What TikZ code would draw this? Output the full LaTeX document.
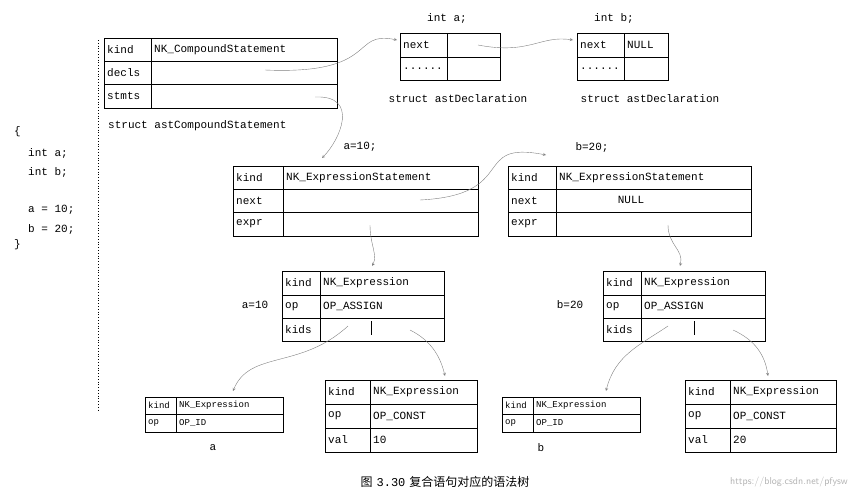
\documentclass[tikz,border=0pt]{standalone}
\usepackage{fontspec}
\setmonofont{Liberation Mono}
\newfontfamily\cjk{Noto Sans CJK SC}
\usetikzlibrary{calc}
\tikzset{
  cellkey/.style={anchor=west,inner sep=0pt,font=\ttfamily\fontsize{11}{12}\selectfont},
  lbl/.style={inner sep=0pt,font=\ttfamily\fontsize{11}{12}\selectfont},
  link/.style={->,gray,thin,>=stealth},
}
% one row of a struct: name, x1, xsplit, x2, ytop, ybot, key, value
\newcommand\cellrow[8]{
  \draw[line width=1pt] (#2,#5) rectangle (#3,#6) (#3,#5) rectangle (#4,#6);
  \node[cellkey] (#1-k) at ({#2+3},{(#5+#6)/2}) {#7};
  \node[cellkey] (#1-v) at ({#3+3},{(#5+#6)/2}) {#8};
}
\begin{document}
\begin{tikzpicture}[x=1pt,y=-1pt]
  \useasboundingbox (0,0) rectangle (856,493);

  % source code
  \node[lbl,anchor=west] (lb) at (14,132) {\{};
  \node[lbl,anchor=west] (ca) at (28,153) {int a;};
  \node[lbl,anchor=west] (cb) at (28,172) {int b;};
  \node[lbl,anchor=west] (cc) at (28,210) {a = 10;};
  \node[lbl,anchor=west] (cd) at (28,229) {b = 20;};
  \node[lbl,anchor=west] (rb) at (14,245) {\}};
  \draw[dotted,thick] (98,40) -- (98,410);

  % compound statement
  \cellrow{cs1}{104}{151}{337}{38}{61}{kind}{NK\_CompoundStatement}
  \cellrow{cs2}{104}{151}{337}{61}{84}{decls}{}
  \cellrow{cs3}{104}{151}{337}{84}{108}{stmts}{}
  \node[lbl,anchor=west] (csname) at (108,126) {struct astCompoundStatement};

  % declarations
  \cellrow{da1}{400}{447}{500}{33}{57}{next}{}
  \cellrow{da2}{400}{447}{500}{57}{80}{......}{}
  \node[lbl] (daname) at (458,99) {struct astDeclaration};
  \node[lbl] (datitle) at (447,18) {int a;};
  \cellrow{db1}{577}{624}{668}{33}{57}{next}{NULL}
  \cellrow{db2}{577}{624}{668}{57}{80}{......}{}
  \node[lbl] (dbname) at (650,99) {struct astDeclaration};
  \node[lbl] (dbtitle) at (614,18) {int b;};

  % expression statements
  \cellrow{ea1}{233}{283}{478}{166}{189}{kind}{NK\_ExpressionStatement}
  \cellrow{ea2}{233}{283}{478}{189}{212}{next}{}
  \cellrow{ea3}{233}{283}{478}{212}{236}{expr}{}
  \node[lbl] (eatitle) at (360,147) {a=10;};
  \cellrow{eb1}{508}{556}{751}{166}{189}{kind}{NK\_ExpressionStatement}
  \cellrow{eb2}{508}{556}{751}{189}{212}{next}{}
  \cellrow{eb3}{508}{556}{751}{212}{236}{expr}{}
  \node[lbl] (ebnull) at (631,200) {NULL};
  \node[lbl] (ebtitle) at (592,147) {b=20;};

  % assign expressions
  \cellrow{xa1}{282}{320}{444}{271}{295}{kind}{NK\_Expression}
  \cellrow{xa2}{282}{320}{444}{295}{318}{op}{OP\_ASSIGN}
  \cellrow{xa3}{282}{320}{444}{318}{341}{kids}{}
  \draw[line width=1pt] (371,321) -- (371,335);
  \node[lbl] (xatitle) at (255,305) {a=10};
  \cellrow{xb1}{603}{641}{765}{271}{295}{kind}{NK\_Expression}
  \cellrow{xb2}{603}{641}{765}{295}{318}{op}{OP\_ASSIGN}
  \cellrow{xb3}{603}{641}{765}{318}{341}{kids}{}
  \draw[line width=1pt] (694,321) -- (694,335);
  \node[lbl] (xbtitle) at (570,305) {b=20};

  % leaves
  \begin{scope}[cellkey/.append style={font=\ttfamily\fontsize{9}{10}\selectfont}]
    \cellrow{ia1}{145}{176}{283}{397}{414}{kind}{NK\_Expression}
    \cellrow{ia2}{145}{176}{283}{414}{432}{op}{OP\_ID}
    \cellrow{ib1}{502}{533}{640}{397}{414}{kind}{NK\_Expression}
    \cellrow{ib2}{502}{533}{640}{414}{432}{op}{OP\_ID}
  \end{scope}
  \node[lbl] (ianame) at (213,448) {a};
  \node[lbl] (ibname) at (541,448) {b};
  \cellrow{ka1}{325}{370}{477}{380}{404}{kind}{NK\_Expression}
  \cellrow{ka2}{325}{370}{477}{404}{428}{op}{OP\_CONST}
  \cellrow{ka3}{325}{370}{477}{428}{452}{val}{10}
  \cellrow{kb1}{685}{730}{836}{380}{404}{kind}{NK\_Expression}
  \cellrow{kb2}{685}{730}{836}{404}{428}{op}{OP\_CONST}
  \cellrow{kb3}{685}{730}{836}{428}{452}{val}{20}

  % links
  \coordinate (p1) at (265,70);  \coordinate (q1) at (397,40);
  \coordinate (p2) at (315,97);  \coordinate (q2) at (322,158);
  \coordinate (p3) at (478,45);  \coordinate (q3) at (573,40);
  \coordinate (p4) at (420,200); \coordinate (q4) at (546,155);
  \coordinate (p5) at (370,225); \coordinate (q5) at (372,266);
  \coordinate (p6) at (668,225); \coordinate (q6) at (680,266);
  \coordinate (p7) at (348,326); \coordinate (q7) at (233,391);
  \coordinate (p8) at (410,330); \coordinate (q8) at (445,376);
  \coordinate (p9) at (668,326); \coordinate (q9) at (606,391);
  \coordinate (p10) at (733,330); \coordinate (q10) at (768,376);
  \draw[link] (p1) .. controls (380,75) and (350,30) .. (q1);
  \draw[link] (p2) .. controls (360,95) and (340,140) .. (q2);
  \draw[link] (p3) .. controls (530,55) and (540,35) .. (q3);
  \draw[link] (p4) .. controls (520,195) and (470,140) .. (q4);
  \draw[link] (p5) .. controls (370,245) and (378,255) .. (q5);
  \draw[link] (p6) .. controls (668,245) and (684,250) .. (q6);
  \draw[link] (p7) .. controls (300,370) and (250,350) .. (q7);
  \draw[link] (p8) .. controls (430,340) and (440,355) .. (q8);
  \draw[link] (p9) .. controls (640,345) and (615,355) .. (q9);
  \draw[link] (p10) .. controls (755,340) and (765,355) .. (q10);

  % caption
  \node[inner sep=0pt,font=\fontsize{12}{14}\selectfont] (cap) at (445,482)
    {{\cjk 图} \texttt{3.30} {\cjk 复合语句对应的语法树}};
  \node[inner sep=0pt,anchor=east,gray!60,font=\sffamily\fontsize{10}{12}\selectfont] (wm) at (848,482)
    {https://blog.csdn.net/pfysw};
\end{tikzpicture}
\end{document}
